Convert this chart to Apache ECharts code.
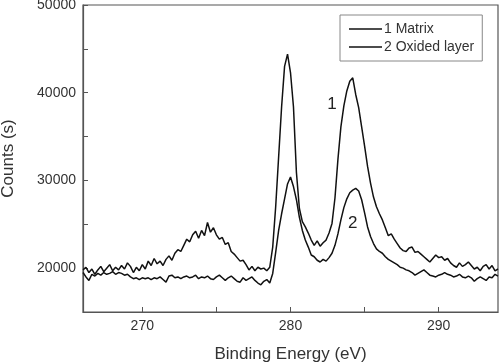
<!DOCTYPE html>
<html><head><meta charset="utf-8">
<script src="https://cdn.jsdelivr.net/npm/echarts@6/dist/echarts.min.js"></script>
<style>html,body{margin:0;padding:0;background:#fff}#c{width:500px;height:364px}</style>
</head><body><div id="c"></div>
<script>
const energy = [266.0,266.2,266.4,266.6,266.8,267.0,267.2,267.4,267.6,267.8,268.0,268.2,268.4,268.6,268.8,269.0,269.2,269.4,269.6,269.8,
270.0,270.2,270.4,270.6,270.8,271.0,271.2,271.4,271.6,271.8,272.0,272.2,272.4,272.6,272.8,273.0,273.2,273.4,273.6,273.8,
274.0,274.2,274.4,274.6,274.8,275.0,275.2,275.4,275.6,275.8,276.0,276.2,276.4,276.6,276.8,277.0,277.2,277.4,277.6,277.8,
278.0,278.2,278.4,278.6,278.8,279.0,279.2,279.4,279.6,279.8,280.0,280.2,280.4,280.6,280.8,281.0,281.2,281.4,281.6,281.8,
282.0,282.2,282.4,282.6,282.8,283.0,283.2,283.4,283.6,283.8,284.0,284.2,284.4,284.6,284.8,285.0,285.2,285.4,285.6,285.8,
286.0,286.2,286.4,286.6,286.8,287.0,287.2,287.4,287.6,287.8,288.0,288.2,288.4,288.6,288.8,289.0,289.2,289.4,289.6,289.8,
290.0,290.2,290.4,290.6,290.8,291.0,291.2,291.4,291.6,291.8,292.0,292.2,292.4,292.6,292.8,293.0,293.2,293.4,293.6,293.8,294.0];

const matrix = [19800,20100,19500,19900,19300,19800,20200,19600,20000,20400,19700,20100,19800,20300,19900,20600,20200,19500,20100,19700,
20400,19900,20800,20300,21100,20500,20800,20300,21000,21400,20900,21700,22100,21900,22600,23300,23000,23800,24200,23400,
24300,23700,25200,24100,24600,23800,23300,23500,22700,22900,21900,21600,21200,20800,20900,20400,19800,20200,19700,20100,
19900,20000,19700,20100,22400,27000,32700,38400,43000,44400,42300,38400,30900,26800,25300,24700,24000,23200,22600,23100,
22500,22900,23200,24000,25100,28000,32400,36100,38500,40200,41300,41700,39800,38300,36100,33900,31600,29700,28100,27000,
26200,25500,24600,23700,23900,23300,22800,22300,22000,21900,22300,22400,21800,21900,21600,21300,21000,20700,21100,21500,
21200,21300,20900,21100,20600,20300,20100,20600,20200,20400,20700,20300,19900,20100,19700,20200,20400,19900,20300,19700,19900];

const oxided = [19500,19000,18600,19300,19100,19400,19200,19500,19300,19400,19600,19300,19500,19400,19200,19300,19000,18800,18900,18700,
18900,18800,18900,18700,18900,18800,19000,18700,18400,19100,19200,18900,19000,18800,19000,19100,18900,19000,19200,18800,
19000,18900,19100,18800,18700,19000,19200,18900,18600,18900,19100,18800,18500,18400,18900,18600,18800,19000,18600,18300,
18100,18500,18700,18300,19400,21800,24300,26200,27900,29600,30400,29300,27800,25800,24300,23200,22400,21500,21300,20900,
20700,21000,20800,21200,21700,22600,23900,25500,26900,27900,28600,28900,29100,28800,27800,26300,24700,23600,22800,22200,
21900,21700,21300,21000,20800,20600,20400,20100,20000,19800,19700,19500,19200,19400,19600,19800,19500,19200,19100,19000,
19200,19300,19500,19300,19200,19000,19100,19300,19000,18900,19100,18900,18500,18800,19000,18800,18600,19000,18900,19300,19100];

const seriesNames = ['1 Matrix', '2 Oxided layer'];
const xTickLabels = [270, 280, 290];
const xTicks = [270, 275, 280, 285, 290];
const yTickLabels = [20000, 30000, 40000, 50000];
const yTicks = [20000, 25000, 30000, 35000, 40000, 45000, 50000];
const peakLabels = [{text: '1', coord: [282.8, 38700]}, {text: '2', coord: [284.2, 25150]}];

const FONT = 'Arial, "Liberation Sans", sans-serif';
const chart = echarts.init(document.getElementById('c'));
const pair = (ys) => energy.map((x, i) => [x, ys[i]]);
const axisCol = '#555';
const mp = (lbl) => ({symbol: 'circle', symbolSize: 0, silent: true,
  label: {show: true, fontSize: 17, color: '#222', fontFamily: FONT, formatter: p => p.name, position: 'inside'},
  data: [{name: lbl.text, coord: lbl.coord}]});
chart.setOption({
  animation: false,
  textStyle: {fontFamily: FONT},
  grid: {left: 83, right: 2, top: 5, bottom: 52, show: true, borderColor: axisCol, borderWidth: 1.2,
    containLabel: false, outerBoundsMode: 'none'},
  legend: {
    left: 340, top: 15, orient: 'vertical',
    data: seriesNames,
    icon: 'rect',
    borderColor: '#888', borderWidth: 1,
    padding: [7, 8, 7, 9], itemGap: 4, itemWidth: 33, itemHeight: 1.5,
    itemStyle: {color: '#111'},
    textStyle: {fontSize: 14, color: '#333', fontFamily: FONT, lineHeight: 14, padding: [0, 0, 0, -3]}
  },
  xAxis: {
    type: 'value', min: 266, max: 294,
    name: 'Binding Energy (eV)', nameLocation: 'middle', nameGap: 34,
    nameTextStyle: {fontSize: 17, color: '#333', fontFamily: FONT},
    axisLine: {lineStyle: {color: axisCol, width: 1.2}},
    axisTick: {inside: true, length: 5, lineStyle: {color: axisCol}, customValues: xTicks},
    axisLabel: {fontSize: 14, color: '#333', margin: 7, fontFamily: FONT, customValues: xTickLabels,
      formatter: v => String(v)},
    splitLine: {show: false}
  },
  yAxis: {
    type: 'value', min: 15000, max: 50000,
    name: 'Counts (s)', nameLocation: 'middle', nameGap: 66,
    nameTextStyle: {fontSize: 17, color: '#333', fontFamily: FONT},
    axisLine: {show: true, lineStyle: {color: axisCol, width: 1.2}},
    axisTick: {show: true, inside: true, length: 5, lineStyle: {color: axisCol}, customValues: yTicks},
    axisLabel: {fontSize: 14, color: '#333', margin: 7, fontFamily: FONT, customValues: yTickLabels,
      formatter: v => String(v)},
    splitLine: {show: false}
  },
  series: [
    {name: seriesNames[0], type: 'line', data: pair(matrix), symbol: 'none',
     lineStyle: {color: '#111', width: 1.5}, itemStyle: {color: '#111'}, markPoint: mp(peakLabels[0])},
    {name: seriesNames[1], type: 'line', data: pair(oxided), symbol: 'none',
     lineStyle: {color: '#111', width: 1.5}, itemStyle: {color: '#111'}, markPoint: mp(peakLabels[1])}
  ]
});
</script></body></html>
